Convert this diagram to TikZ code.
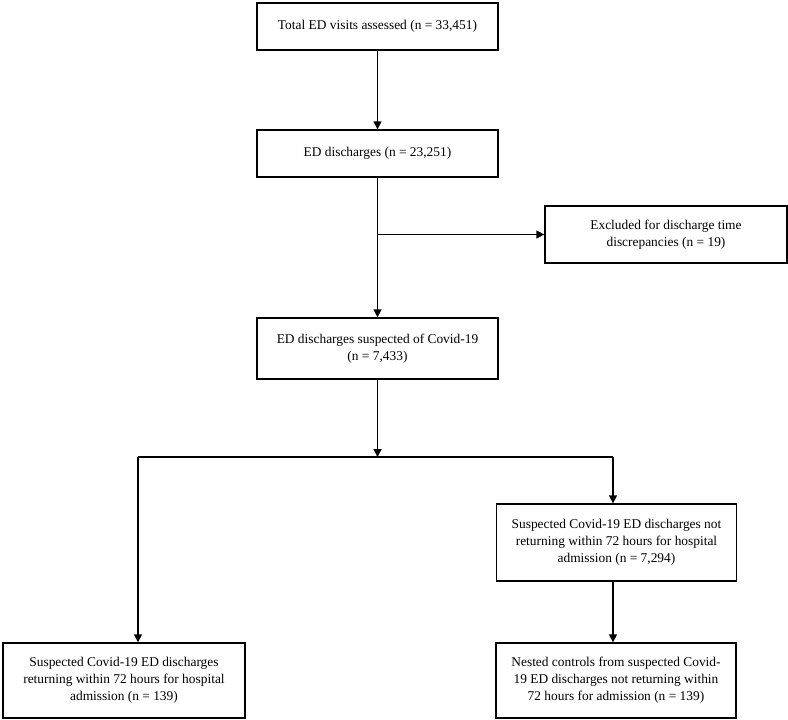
\documentclass[tikz,border=0pt]{standalone}
\usepackage{fontspec}
\setmainfont{Liberation Serif}
\usetikzlibrary{arrows.meta}
\begin{document}
\begin{tikzpicture}[x=1pt,y=-1pt,
  flowbox/.style={draw=black,line width=1.3pt,rectangle,inner sep=0pt,align=center,
    font=\fontsize{13.4}{16.8}\selectfont},
  conn/.style={line width=1.4pt,-{Triangle[length=8pt,width=8pt]}},
  plain/.style={line width=1.4pt}]
\useasboundingbox (0,0) rectangle (788,720);
\node[flowbox,minimum width=241pt,minimum height=47pt] (b1) at (377.5,26.5) {Total ED visits assessed (n = 33,451)};
\node[flowbox,minimum width=241pt,minimum height=47pt] (b2) at (377.5,153.5) {ED discharges (n = 23,251)};
\node[flowbox,minimum width=242pt,minimum height=57pt] (b3) at (666,234.5) {Excluded for discharge time\\discrepancies (n = 19)};
\node[flowbox,minimum width=241pt,minimum height=61pt] (b4) at (377.5,348.5) {ED discharges suspected of Covid-19\\(n = 7,433)};
\node[flowbox,minimum width=240pt,minimum height=77pt] (b5) at (616.5,542.5) {Suspected Covid-19 ED discharges not\\returning within 72 hours for hospital\\admission (n = 7,294)};
\node[flowbox,minimum width=242pt,minimum height=75pt] (b6) at (124,680.5) {Suspected Covid-19 ED discharges\\returning within 72 hours for hospital\\admission (n = 139)};
\node[flowbox,minimum width=240pt,minimum height=75pt] (b7) at (616,680.5) {Nested controls from suspected Covid-\\19 ED discharges not returning within\\72 hours for admission (n = 139)};
\coordinate (split) at (377.5,234.5);
\coordinate (junc) at (377.5,457);
\coordinate (jl) at (138,457);
\coordinate (jr) at (613,457);
\draw[conn] (b1.south) -- (b2.north);
\draw[conn] (b2.south) -- (b4.north);
\draw[conn] (split) -- (b3.west);
\draw[conn] (b4.south) -- (junc);
\draw[plain] (jl) -- (jr);
\draw[conn] (jl) -- (jl |- b6.north);
\draw[conn] (jr) -- (jr |- b5.north);
\draw[conn] (b5.south -| jr) -- (jr |- b7.north);
\end{tikzpicture}
\end{document}
